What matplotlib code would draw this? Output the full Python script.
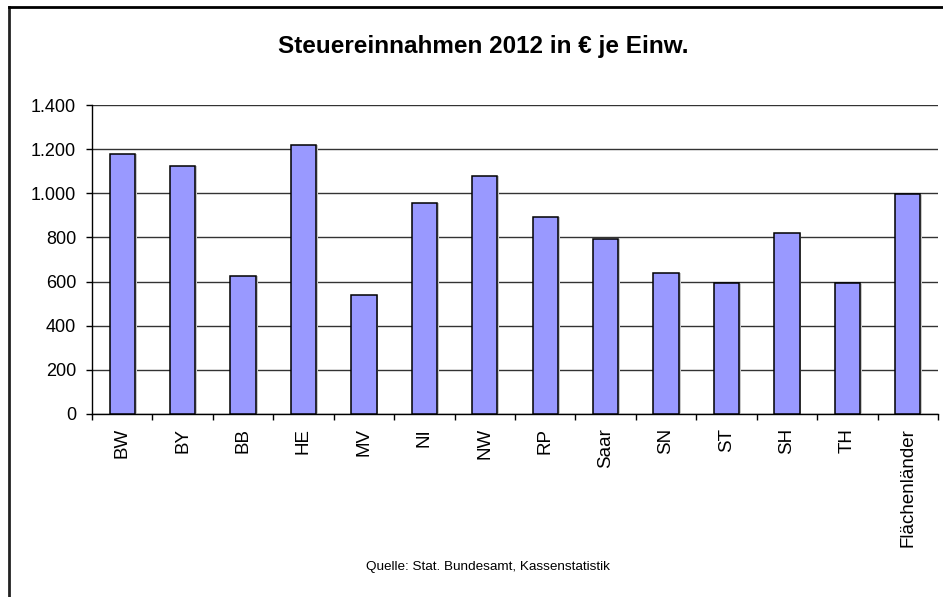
import numpy as np
import matplotlib.pyplot as plt
from matplotlib.ticker import FuncFormatter, FixedLocator
from matplotlib.lines import Line2D

plt.rcParams['font.family'] = ['Liberation Sans', 'DejaVu Sans']

# Daten: Steuereinnahmen 2012 in EUR je Einwohner
laender = ['BW', 'BY', 'BB', 'HE', 'MV', 'NI', 'NW', 'RP', 'Saar', 'SN',
           'ST', 'SH', 'TH', 'Flächenländer']
werte = [1177, 1124, 625, 1217, 538, 956, 1077, 894, 793, 637,
         592, 820, 592, 997]
y_ticks = [0, 200, 400, 600, 800, 1000, 1200, 1400]

W, H = 943, 597
fig = plt.figure(figsize=(W / 100, H / 100), dpi=100)
ax = fig.add_axes([92 / W, (H - 414) / H, 846 / W, 309 / H])

x = np.arange(len(laender))
# leichter Schatten wie im Original
ax.bar(x + 0.03, werte, width=0.42, color='#c8c8c8', zorder=2)
ax.bar(x, werte, width=0.42, color='#9999ff', edgecolor='black',
       linewidth=1.1, zorder=3)

ax.set_xlim(-0.5, len(laender) - 0.5)
ax.set_ylim(0, 1400)
ax.set_yticks(y_ticks)
ax.yaxis.set_major_formatter(FuncFormatter(lambda v, p: f'{int(v):,}'.replace(',', '.')))
ax.grid(axis='y', color='#333333', linewidth=1.0, zorder=1)
ax.set_axisbelow(True)

ax.set_xticks(x)
ax.set_xticklabels(laender, rotation=90, va='top', ha='center')
ax.xaxis.set_minor_locator(FixedLocator(np.arange(len(laender) + 1) - 0.5))
ax.tick_params(axis='x', which='major', length=0, pad=10, labelsize=13.5)
ax.tick_params(axis='x', which='minor', length=4.5, width=1, direction='out')
ax.tick_params(axis='y', length=4.5, width=1, pad=7, labelsize=13)

for s in ['top', 'right']:
    ax.spines[s].set_visible(False)
for s in ['left', 'bottom']:
    ax.spines[s].set_linewidth(1.0)

fig.text(483 / W, 1 - 46 / H, 'Steuereinnahmen 2012 in € je Einw.',
         ha='center', va='center', fontsize=17.5, fontweight='bold')
fig.text(488 / W, 1 - 567 / H, 'Quelle: Stat. Bundesamt, Kassenstatistik',
         ha='center', va='center', fontsize=9.7)

# Rahmen (links und oben sichtbar)
fig.add_artist(Line2D([8.5 / W, 8.5 / W], [0, 1 - 7 / H], color='#222222',
                      linewidth=2, transform=fig.transFigure))
fig.add_artist(Line2D([8.5 / W, 1], [1 - 7 / H, 1 - 7 / H], color='black',
                      linewidth=2, transform=fig.transFigure))

fig.savefig('out.png', dpi=100)
